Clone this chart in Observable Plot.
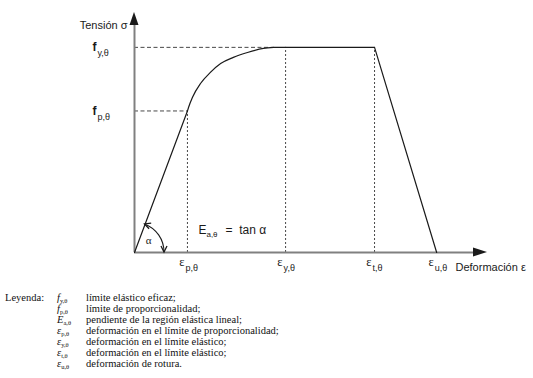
<!DOCTYPE html>
<html><head><meta charset="utf-8">
<script src="https://cdn.jsdelivr.net/npm/d3@7"></script>
<script src="https://cdn.jsdelivr.net/npm/@observablehq/plot@0.6"></script>
<style>
body{margin:0;background:#fff;}
#wrap{position:relative;width:533px;height:378px;overflow:hidden;}
#chart{position:absolute;left:0;top:0;}
.lg{position:absolute;font-family:"Liberation Serif","Times New Roman",serif;font-size:10.5px;color:#111;white-space:nowrap;line-height:11px;}
.lg i{font-style:italic;}
.lg sub{font-size:6.5px;vertical-align:-2px;font-style:normal;}
</style></head><body>
<div id="wrap"><div id="chart"></div><div id="legend"></div></div>
<script>
// ---- data ----
const strainKeys = ["p", "y", "t", "u"];
const strainValues = [15.0, 42.8, 68.0, 85.6];
const stressKeys = ["y", "p"];
const stressValues = [1.0, 0.69];
const elasticX = [0, 15.0];
const elasticY = [0, 0.69];
const transitionX = [15.0, 15.3, 16.4, 18.7, 21.5, 24.4, 28.0, 32.0, 36.5, 39.4];
const transitionY = [0.69, 0.707, 0.756, 0.824, 0.878, 0.921, 0.951, 0.975, 0.995, 1.0];
const plateauX = [39.4, 68.0, 85.6];
const plateauY = [1.0, 1.0, 0];
const axisMaxX = 100;
const axisMaxY = 1.17;
const yAxisTitle = "Tensión σ";
const xAxisTitle = "Deformación ε";
const legendTitle = "Leyenda:";
const legendSymbols = [["f","y,θ"],["f","p,θ"],["E","a,θ"],["ε","p,θ"],["ε","y,θ"],["ε","t,θ"],["ε","u,θ"]];
const legendTexts = [
  "límite elástico eficaz;",
  "límite de proporcionalidad;",
  "pendiente de la región elástica lineal;",
  "deformación en el límite de proporcionalidad;",
  "deformación en el límite elástico;",
  "deformación en el límite elástico;",
  "deformación de rotura."
];

// ---- tables built from arrays ----
const strain = strainKeys.map((k, i) => ({key: k, v: strainValues[i]}));
const stress = stressKeys.map((k, i) => ({key: k, v: stressValues[i]}));
const elastic = elasticX.map((x, i) => ({x, y: elasticY[i]}));
const transition = transitionX.map((x, i) => ({x, y: transitionY[i]}));
const plateau = plateauX.map((x, i) => ({x, y: plateauY[i]}));
const fy = stressValues[0], fp = stressValues[1];
const hGuides = [{y: fy, x2: plateauX[0]}, {y: fp, x2: strainValues[0]}];
const vGuides = [{x: strainValues[0], y2: fp}, {x: strainValues[1], y2: fy}, {x: strainValues[2], y2: fy}];

const sans = "Arial, 'Liberation Sans', sans-serif";
const serif = "'Liberation Serif', 'Times New Roman', serif";
const ink = "#1a1a1a";

function decorations(index, {x, y}) {
  const x0 = x(0), y0 = y(0);
  const yt = y(axisMaxY), xt = x(axisMaxX);
  const g = d3.create("svg:g");
  g.append("path").attr("d", `M${x0},${yt}L${x0-4.5},${yt+13}L${x0+4.5},${yt+13}Z`).attr("fill", ink);
  g.append("path").attr("d", `M${xt},${y0}L${xt-14},${y0-4.5}L${xt-14},${y0+4.5}Z`).attr("fill", ink);
  const px = x(elasticX[1]), py = y(elasticY[1]);
  const ang = Math.atan2(py - y0, px - x0);
  const r = 30;
  const sx = x0 + r * Math.cos(ang), sy = y0 + r * Math.sin(ang);
  const ex = x0 + r, ey = y0;
  g.append("path").attr("d", `M${sx},${sy}A${r},${r} 0 0 1 ${ex},${ey}`)
    .attr("fill", "none").attr("stroke", ink).attr("stroke-width", 1.1);
  const head = (tx, ty, dx, dy) => {
    const L = 6, W = 3;
    const bx = tx - dx * L, by = ty - dy * L;
    return `M${bx - dy * W},${by + dx * W}L${tx},${ty}L${bx + dy * W},${by - dx * W}`;
  };
  g.append("path").attr("d", head(sx, sy, Math.sin(ang), -Math.cos(ang)))
    .attr("fill", "none").attr("stroke", ink).attr("stroke-width", 1.3);
  g.append("path").attr("d", head(ex, ey, 0, 1))
    .attr("fill", "none").attr("stroke", ink).attr("stroke-width", 1.3);
  return g.node();
}

const chart = Plot.plot({
  width: 533, height: 285,
  marginLeft: 134, marginRight: 46, marginTop: 12, marginBottom: 33,
  x: {domain: [0, axisMaxX], axis: null},
  y: {domain: [0, axisMaxY], axis: null},
  style: {fontFamily: sans, background: "white", overflow: "visible"},
  marks: [
    Plot.ruleY(hGuides, {y: "y", x1: 0, x2: "x2", stroke: "#333", strokeWidth: 0.9, strokeDasharray: "4,2.5"}),
    Plot.ruleX(vGuides, {x: "x", y1: 0, y2: "y2", stroke: "#333", strokeWidth: 0.9, strokeDasharray: "2,2"}),
    Plot.ruleX([0], {y1: 0, y2: axisMaxY - 0.03, stroke: "#808080", strokeWidth: 2}),
    Plot.ruleY([0], {x1: 0, x2: axisMaxX - 3, stroke: "#808080", strokeWidth: 2}),
    Plot.line(elastic, {x: "x", y: "y", stroke: ink, strokeWidth: 1.2}),
    Plot.line(transition, {x: "x", y: "y", stroke: ink, strokeWidth: 1.2, curve: "monotone-x"}),
    Plot.line(plateau, {x: "x", y: "y", stroke: ink, strokeWidth: 1.2}),
    decorations,
    // axis titles
    Plot.text([yAxisTitle], {frameAnchor: "top-left", text: d => d, dx: -7, dy: 9, textAnchor: "end", fontSize: 11, fill: ink}),
    Plot.text([xAxisTitle], {frameAnchor: "bottom-right", text: d => d, dx: -32, dy: 18, textAnchor: "start", fontSize: 11, fill: ink}),
    // stress tick labels
    Plot.text(stress, {y: "v", frameAnchor: "left", text: () => "f", dx: -42, textAnchor: "start", fontSize: 12, fontWeight: "bold", fill: ink}),
    Plot.text(stress, {y: "v", frameAnchor: "left", text: d => d.key + ",θ", dx: -37, dy: 6, textAnchor: "start", fontSize: 9, fill: ink}),
    // strain tick labels
    Plot.text(strain, {x: "v", frameAnchor: "bottom", text: () => "ε", dx: -3, dy: 13, textAnchor: "end", fontSize: 12.5, fontFamily: serif, fill: ink}),
    Plot.text(strain, {x: "v", frameAnchor: "bottom", text: d => d.key + ",θ", dx: -2, dy: 18, textAnchor: "start", fontSize: 9, fill: ink}),
    // modulus annotation
    Plot.text([strainValues[0]], {x: d => d, frameAnchor: "bottom", text: () => "E", dx: 11, dy: -19, textAnchor: "start", fontSize: 12, fill: ink}),
    Plot.text([strainValues[0]], {x: d => d, frameAnchor: "bottom", text: () => "a,θ", dx: 19, dy: -16, textAnchor: "start", fontSize: 8, fill: ink}),
    Plot.text([strainValues[0]], {x: d => d, frameAnchor: "bottom", text: () => "=  tan α", dx: 38, dy: -19, textAnchor: "start", fontSize: 12, fill: ink}),
    Plot.text(["α"], {frameAnchor: "bottom-left", text: d => d, dx: 14, dy: -9, textAnchor: "middle", fontSize: 11, fontFamily: serif, fill: ink})
  ]
});
document.getElementById("chart").appendChild(chart);

// legend
const lg = document.getElementById("legend");
const top0 = 292;
const step = 11;
const mk = (left, top, html) => {
  const d = document.createElement("div");
  d.className = "lg";
  d.style.left = left + "px";
  d.style.top = top + "px";
  d.innerHTML = html;
  lg.appendChild(d);
};
mk(5, top0, legendTitle);
legendSymbols.forEach(([s, sub], i) => {
  mk(57, top0 + i * step, `<i>${s}</i><sub>${sub}</sub>`);
  mk(86, top0 + i * step, legendTexts[i]);
});
</script>
</body></html>
